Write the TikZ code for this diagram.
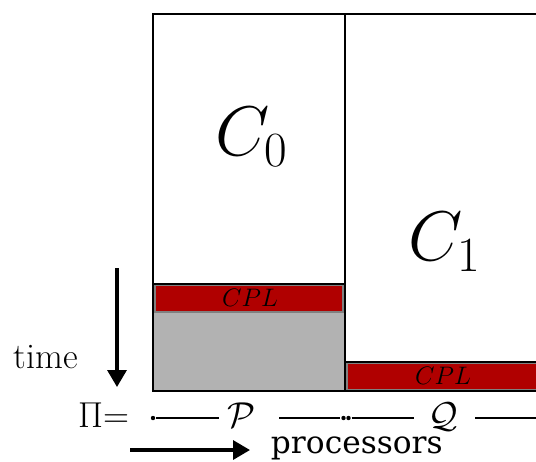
\RequirePackage{fix-cm}
\documentclass[tikz,border=0pt]{standalone}
\usepackage{fontspec}
\newfontfamily\procfont{DejaVu Serif}
\usetikzlibrary{positioning, arrows.meta, calc}
\definecolor{cplred}{RGB}{176,0,0}
\tikzset{
	schedule/.style={
		x=0.02cm, y=-0.02cm,
		line width=1.1pt,
		font=\fontsize{20.5}{24}\selectfont
		},
	task box/.style={draw=black},
	idle/.style={fill=black!30},
	cpl bar/.style={
		draw=black!50,
		line width=0.6pt,
		fill=cplred
	},
	cpl label/.style={font=\fontsize{14.4}{16}\selectfont},
	task label/.style={font=\fontsize{40}{46}\selectfont},
	axis arrow/.style={
		line width=1.9pt,
		-{Triangle[length=0.34cm, width=0.38cm]}
	},
	part line/.style={line width=0.6pt},
	part end/.style={
		circle,
		fill=black,
		inner sep=0pt,
		minimum size=2.5pt
	},
}
\begin{document}
\begin{tikzpicture}[schedule]
	\useasboundingbox (0,0) rectangle (536,461);
	\fill[idle] (153,312) rectangle (345,391);
	\draw[cpl bar] (155,285.5) rectangle (343,312);
	\draw[cpl bar] (347,363.5) rectangle (560,390);
	\draw[task box] (153,14) rectangle (345,391);
	\draw[task box] (345,14) rectangle (560,391);
	\draw (153,284) -- (345,284);
	\draw (345,362) -- (560,362);
	\node[task label] (c0) at (252,137) {$C_0$};
	\node[task label] (c1) at (445,242) {$C_1$};
	\node[cpl label] (cpl0) at (250,298) {$CPL$};
	\node[cpl label] (cpl1) at (443,376) {$CPL$};
	\coordinate (time top) at (117,268);
	\coordinate (time bottom) at (117,387);
	\draw[axis arrow] (time top) -- (time bottom);
	\node[anchor=base] (time) at (46,368) {time};
	\node[anchor=base east, inner sep=0pt] (pi) at (130,427) {$\Pi$=};
	\node[part end] (p start) at (153,418) {};
	\node[part end] (p end) at (343.5,418) {};
	\node[part end] (q start) at (348.5,418) {};
	\coordinate (q end) at (540,418);
	\node[anchor=base, inner sep=0pt] (p) at (242,427) {$\mathcal{P}$};
	\node[anchor=base, inner sep=0pt] (q) at (443,427) {$\mathcal{Q}$};
	\coordinate (p left) at (219,418);
	\coordinate (p right) at (279,418);
	\coordinate (q left) at (414,418);
	\coordinate (q right) at (475,418);
	\draw[part line] (p start) -- (p left);
	\draw[part line] (p right) -- (p end);
	\draw[part line] (q start) -- (q left);
	\draw[part line] (q right) -- (q end);
	\coordinate (proc left) at (130,450);
	\coordinate (proc right) at (250,450);
	\draw[axis arrow] (proc left) -- (proc right);
	\node[anchor=base west, inner sep=0pt, font=\procfont\fontsize{17.8}{20}\selectfont] (proc) at (270,453) {processors};
\end{tikzpicture}
\end{document}
